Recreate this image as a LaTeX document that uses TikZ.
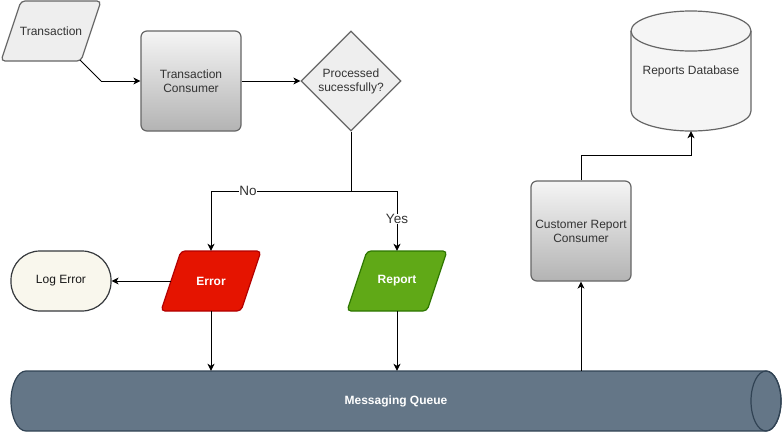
\documentclass[tikz,border=0pt]{standalone}
\usepackage{fontspec}
\setmainfont{Liberation Sans}
\usetikzlibrary{shapes.geometric,arrows.meta}
\definecolor{gfill}{HTML}{F5F5F5}
\definecolor{gfillb}{HTML}{EEEEEE}
\definecolor{gstroke}{HTML}{666666}
\definecolor{gtext}{HTML}{333333}
\definecolor{gbot}{HTML}{B3B3B3}
\definecolor{logfill}{HTML}{F9F7ED}
\definecolor{logstroke}{HTML}{36393D}
\definecolor{errfill}{HTML}{E51400}
\definecolor{errstroke}{HTML}{B20000}
\definecolor{repfill}{HTML}{60A917}
\definecolor{repstroke}{HTML}{2D7600}
\definecolor{qfill}{HTML}{647687}
\definecolor{qstroke}{HTML}{314354}
\newcommand{\parashape}[3]{% style, cx, cy
  \path[#1, rounded corners=4pt, line width=1.2pt]
    (#2-50,#3+30) -- (#2-30,#3-30) -- (#2+50,#3-30) -- (#2+30,#3+30) -- cycle;}
\begin{document}
\begin{tikzpicture}[x=1pt,y=-1pt,
  base/.style={font=\fontsize{12}{14}\selectfont, align=center, inner sep=0pt},
  grey/.style={base, draw=gstroke, fill=gfillb, text=gtext, line width=1.2pt},
  proc/.style={grey, rounded corners=6pt, minimum width=100pt, minimum height=100pt,
    top color=gfill, bottom color=gbot},
  io/.style={base, minimum width=80pt, minimum height=60pt},
  wtext/.style={text=white, font=\fontsize{12}{14}\selectfont\bfseries},
  conn/.style={line width=1pt, -{Stealth[length=7pt,width=7pt,inset=2pt]}},
  lab/.style={font=\fontsize{13.5}{15}\selectfont, text=gtext, fill=white, inner sep=0.5pt}
]
\useasboundingbox (0,0) rectangle (782,432);

% Queue shape
\path[draw=qstroke, fill=qfill, line width=1.2pt]
  (26,371) -- (766,371) arc[start angle=-90, end angle=90, x radius=15, y radius=30]
  -- (26,431) arc[start angle=90, end angle=270, x radius=15, y radius=30] -- cycle;
\draw[qstroke, line width=1.2pt] (766,401) ellipse[x radius=15, y radius=30];
\node[base, wtext, minimum width=770pt, minimum height=60pt] (q) at (396,401) {Messaging Queue};

% Database shape
\path[draw=gstroke, fill=gfill, line width=1.2pt]
  (631,31) -- (631,111) arc[start angle=180, end angle=0, x radius=60, y radius=20]
  -- (751,31) arc[start angle=0, end angle=-180, x radius=60, y radius=20] -- cycle;
\draw[gstroke, line width=1.2pt] (631,31) arc[start angle=180, end angle=0, x radius=60, y radius=20];
\node[base, text=gtext, minimum width=120pt, minimum height=120pt] (db) at (691,71) {Reports Database};

% Parallelograms
\parashape{draw=gstroke, fill=gfillb}{51}{31}
\node[io, text=gtext] (tr) at (51,31) {Transaction};
\parashape{draw=errstroke, fill=errfill}{211}{281}
\node[io, wtext] (err) at (211,281) {Error};
\parashape{draw=repstroke, fill=repfill}{397}{281}
\node[io, wtext] (rep) at (397,281) {Report};

% Other nodes
\node[proc] (tc) at (191,81) {Transaction\\Consumer};
\node[grey, diamond, minimum width=100pt, minimum height=100pt, aspect=1] (dec) at (351,81) {Processed\\sucessfully?};
\node[base, draw=logstroke, fill=logfill, text=black!90, line width=1.2pt,
  minimum width=100pt, minimum height=60pt, rounded corners=29pt] (log) at (61,281) {Log Error};
\node[proc] (crc) at (581,231) {Customer Report\\Consumer};

% Connectors
\coordinate (trcorner) at (80,60);
\coordinate (bend1) at (101,81);
\coordinate (split) at (351,191);
\draw[line width=1pt] (trcorner) -- (bend1);
\draw[conn] (bend1) -- (tc.west);
\draw[conn] (tc.east) -- (dec.west);
\draw[line width=1pt] (dec.south) -- (split);
\draw[conn] (split) -| node[lab, pos=0.368] {No} (err.north);
\draw[conn] (split) -| node[lab, pos=0.733] {Yes} (rep.north);
\draw[conn] (err.west) -- (log.east);
\draw[conn] (err.south) -- (err.south |- q.north);
\draw[conn] (rep.south) -- (rep.south |- q.north);
\draw[conn] (crc.south |- q.north) -- (crc.south);
\draw[conn] (crc.north) -- ++(0,-25) -| (db.south);
\end{tikzpicture}
\end{document}
